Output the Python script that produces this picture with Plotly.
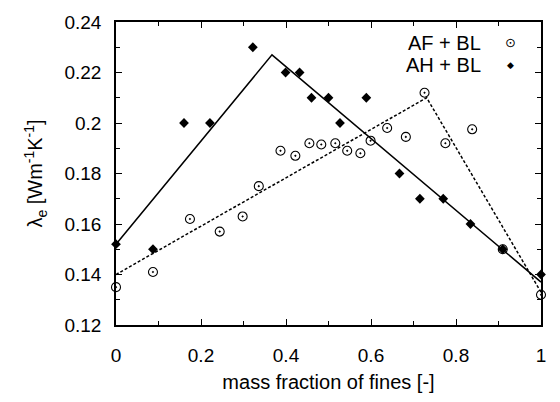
import plotly.graph_objects as go

# --- data ---
af_x = [0.0, 0.087, 0.174, 0.244, 0.298, 0.336, 0.387, 0.422, 0.455, 0.483, 0.516,
        0.544, 0.575, 0.599, 0.638, 0.682, 0.726, 0.775, 0.838, 0.910, 1.0]
af_y = [0.135, 0.141, 0.162, 0.157, 0.163, 0.175, 0.189, 0.187, 0.192, 0.1915, 0.192,
        0.189, 0.188, 0.193, 0.198, 0.1945, 0.212, 0.192, 0.1975, 0.150, 0.132]

ah_x = [0.0, 0.087, 0.160, 0.221, 0.322, 0.399, 0.432, 0.460, 0.500, 0.527, 0.589,
        0.667, 0.715, 0.770, 0.834, 0.910, 1.0]
ah_y = [0.152, 0.150, 0.200, 0.200, 0.230, 0.220, 0.220, 0.210, 0.210, 0.200, 0.210,
        0.180, 0.170, 0.170, 0.160, 0.150, 0.140]

ah_fit_x = [0.0, 0.367, 1.0]
ah_fit_y = [0.152, 0.227, 0.137]
af_fit_x = [0.0, 0.731, 1.0]
af_fit_y = [0.140, 0.210, 0.133]

x_tickvals = [0, 0.2, 0.4, 0.6, 0.8, 1.0]
x_ticktext = ["0", "0.2", "0.4", "0.6", "0.8", "1"]
y_tickvals = [0.12, 0.14, 0.16, 0.18, 0.20, 0.22, 0.24]
y_ticktext = ["0.12", "0.14", "0.16", "0.18", "0.2", "0.22", "0.24"]

series_names = ["AF + BL", "AH + BL"]
legend_keys = ["⊙", "◆"]

FONT = "Liberation Sans, Arial, Helvetica, sans-serif"

fig = go.Figure()

fig.add_trace(go.Scatter(x=ah_fit_x, y=ah_fit_y, mode="lines",
                         line=dict(color="black", width=1.5),
                         showlegend=False, hoverinfo="skip"))
fig.add_trace(go.Scatter(x=af_fit_x, y=af_fit_y, mode="lines",
                         line=dict(color="black", width=1.5, dash="3px,2px"),
                         showlegend=False, hoverinfo="skip"))

fig.add_trace(go.Scatter(x=af_x, y=af_y, mode="markers", name=series_names[0],
                         marker=dict(symbol="circle-open-dot", size=9,
                                     color="black", line=dict(width=1.1, color="black")),
                         cliponaxis=False, showlegend=False))
fig.add_trace(go.Scatter(x=ah_x, y=ah_y, mode="markers", name=series_names[1],
                         marker=dict(symbol="diamond", size=7.5, color="black",
                                     line=dict(width=0)),
                         cliponaxis=False, showlegend=False))

# legend: text right-aligned, key symbol to the right
for i, (nm, key) in enumerate(zip(series_names, legend_keys)):
    fig.add_annotation(text=nm, xref="paper", yref="paper",
                       x=0.864, y=0.932 - i * 0.073, xanchor="right", yanchor="middle",
                       showarrow=False, font=dict(family=FONT, size=20, color="black"))
    fig.add_annotation(text=key, xref="paper", yref="paper",
                       x=0.928, y=0.932 - i * 0.073, xanchor="center", yanchor="middle",
                       showarrow=False,
                       font=dict(family="DejaVu Sans", size=13 if i == 0 else 9,
                                 color="black"))

axis_common = dict(showline=True, linecolor="black", linewidth=1.5, mirror="allticks",
                   ticks="inside", ticklen=6, tickwidth=1.2, tickcolor="black",
                   showgrid=False, zeroline=False,
                   tickfont=dict(family=FONT, size=19, color="black"))

fig.update_xaxes(range=[0, 1], tickvals=x_tickvals, ticktext=x_ticktext,
                 minor=dict(ticks="inside", dtick=0.1, ticklen=4, tickwidth=1.2,
                            tickcolor="black", showgrid=False),
                 title=dict(text="mass fraction of fines [-]",
                            font=dict(family=FONT, size=20, color="black"), standoff=10),
                 ticklabelstandoff=12,
                 **axis_common)
fig.update_yaxes(range=[0.12, 0.24], tickvals=y_tickvals, ticktext=y_ticktext,
                 minor=dict(ticks="inside", dtick=0.01, ticklen=4, tickwidth=1.2,
                            tickcolor="black", showgrid=False),
                 title=dict(text="λ<sub>e</sub> [Wm<sup>-1</sup>K<sup>-1</sup>]",
                            font=dict(family=FONT, size=20, color="black"), standoff=16),
                 ticklabelstandoff=9,
                 **axis_common)

fig.update_layout(width=560, height=402,
                  margin=dict(l=116, r=19, t=19, b=65),
                  paper_bgcolor="white", plot_bgcolor="white",
                  font=dict(family=FONT, color="black"),
                  showlegend=False)

fig.write_html("out.html")
